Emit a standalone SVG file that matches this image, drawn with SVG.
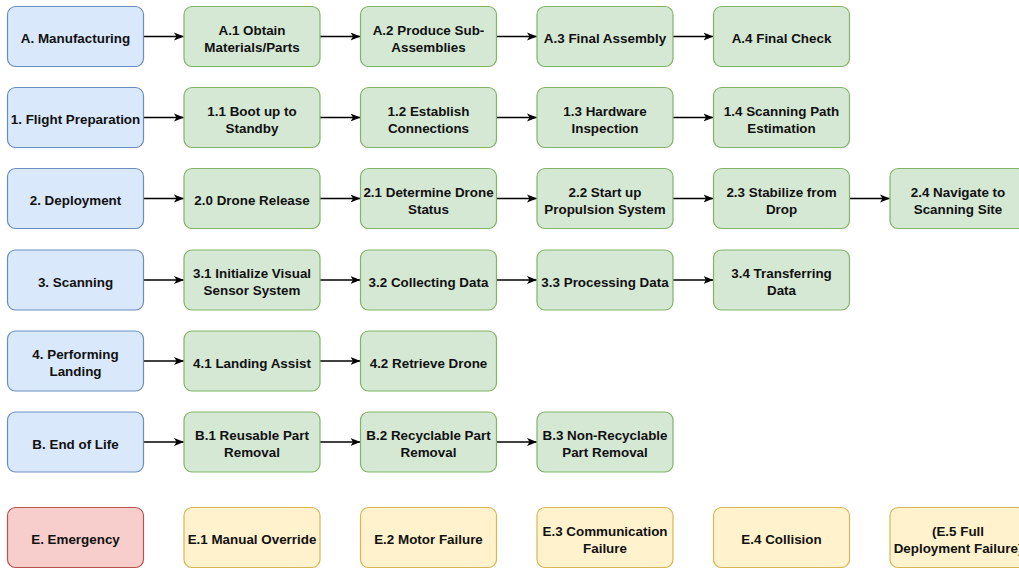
<svg xmlns="http://www.w3.org/2000/svg" width="1019" height="570" viewBox="0 0 1019 570">
  <style>
    .box { stroke-width: 1.2; }
    .phase { fill: #dae8fc; stroke: #6c8ebf; }
    .step { fill: #d5e8d4; stroke: #82b366; }
    .emer { fill: #f8cecc; stroke: #b85450; }
    .warn { fill: #fff2cc; stroke: #d6b656; }
    text { font-family: "Liberation Sans", Arial, Helvetica, sans-serif; font-size: 13.4px; font-weight: bold; fill: #111; text-anchor: middle; }
    .link { stroke: #000; stroke-width: 1.5; fill: none; marker-end: url(#arrow); }
  </style>
  <defs>
    <marker id="arrow" viewBox="0 0 10 10" refX="9.5" refY="5" markerWidth="10" markerHeight="10" markerUnits="userSpaceOnUse" orient="auto">
      <path d="M0,1 L10,5 L0,9 L2.5,5 Z" fill="#000"/>
    </marker>
  </defs>

  <!-- connectors -->
  <g id="connectors">
    <!-- row A -->
    <line class="link" x1="143.5" y1="36.5" x2="183.5" y2="36.5"/>
    <line class="link" x1="320" y1="36.5" x2="360" y2="36.5"/>
    <line class="link" x1="496" y1="36.5" x2="536.5" y2="36.5"/>
    <line class="link" x1="673" y1="36.5" x2="713" y2="36.5"/>
    <!-- row 1 -->
    <line class="link" x1="143.5" y1="117.5" x2="183.5" y2="117.5"/>
    <line class="link" x1="320" y1="117.5" x2="360" y2="117.5"/>
    <line class="link" x1="496" y1="117.5" x2="536.5" y2="117.5"/>
    <line class="link" x1="673" y1="117.5" x2="713" y2="117.5"/>
    <!-- row 2 -->
    <line class="link" x1="143.5" y1="198.5" x2="183.5" y2="198.5"/>
    <line class="link" x1="320" y1="198.5" x2="360" y2="198.5"/>
    <line class="link" x1="496" y1="198.5" x2="536.5" y2="198.5"/>
    <line class="link" x1="673" y1="198.5" x2="713" y2="198.5"/>
    <line class="link" x1="849" y1="198.5" x2="889.5" y2="198.5"/>
    <!-- row 3 -->
    <line class="link" x1="143.5" y1="280" x2="183.5" y2="280"/>
    <line class="link" x1="320" y1="280" x2="360" y2="280"/>
    <line class="link" x1="496" y1="280" x2="536.5" y2="280"/>
    <line class="link" x1="673" y1="280" x2="713" y2="280"/>
    <!-- row 4 -->
    <line class="link" x1="143.5" y1="361" x2="183.5" y2="361"/>
    <line class="link" x1="320" y1="361" x2="360" y2="361"/>
    <!-- row B -->
    <line class="link" x1="143.5" y1="442" x2="183.5" y2="442"/>
    <line class="link" x1="320" y1="442" x2="360" y2="442"/>
    <line class="link" x1="496" y1="442" x2="536.5" y2="442"/>
  </g>

  <!-- row A: manufacturing -->
  <g id="A"><rect class="box phase" x="7.5" y="6.5" width="136" height="60" rx="8"/><text x="75.5" y="43">A. Manufacturing</text></g>
  <g id="A1"><rect class="box step" x="184" y="6.5" width="136" height="60" rx="8"/><text x="252" y="34.5">A.1 Obtain</text><text x="252" y="51.5">Materials/Parts</text></g>
  <g id="A2"><rect class="box step" x="360.5" y="6.5" width="136" height="60" rx="8"/><text x="428.5" y="34.5">A.2 Produce Sub-</text><text x="428.5" y="51.5">Assemblies</text></g>
  <g id="A3"><rect class="box step" x="537" y="6.5" width="136" height="60" rx="8"/><text x="605" y="43">A.3 Final Assembly</text></g>
  <g id="A4"><rect class="box step" x="713.5" y="6.5" width="136" height="60" rx="8"/><text x="781.5" y="43">A.4 Final Check</text></g>

  <!-- row 1: flight preparation -->
  <g id="P1"><rect class="box phase" x="7.5" y="87.5" width="136" height="60" rx="8"/><text x="75.5" y="124">1. Flight Preparation</text></g>
  <g id="P1-1"><rect class="box step" x="184" y="87.5" width="136" height="60" rx="8"/><text x="252" y="115.5">1.1 Boot up to</text><text x="252" y="132.5">Standby</text></g>
  <g id="P1-2"><rect class="box step" x="360.5" y="87.5" width="136" height="60" rx="8"/><text x="428.5" y="115.5">1.2 Establish</text><text x="428.5" y="132.5">Connections</text></g>
  <g id="P1-3"><rect class="box step" x="537" y="87.5" width="136" height="60" rx="8"/><text x="605" y="115.5">1.3 Hardware</text><text x="605" y="132.5">Inspection</text></g>
  <g id="P1-4"><rect class="box step" x="713.5" y="87.5" width="136" height="60" rx="8"/><text x="781.5" y="115.5">1.4 Scanning Path</text><text x="781.5" y="132.5">Estimation</text></g>

  <!-- row 2: deployment -->
  <g id="P2"><rect class="box phase" x="7.5" y="168.5" width="136" height="60" rx="8"/><text x="75.5" y="205">2. Deployment</text></g>
  <g id="P2-0"><rect class="box step" x="184" y="168.5" width="136" height="60" rx="8"/><text x="252" y="205">2.0 Drone Release</text></g>
  <g id="P2-1"><rect class="box step" x="360.5" y="168.5" width="136" height="60" rx="8"/><text x="428.5" y="196.5">2.1 Determine Drone</text><text x="428.5" y="213.5">Status</text></g>
  <g id="P2-2"><rect class="box step" x="537" y="168.5" width="136" height="60" rx="8"/><text x="605" y="196.5">2.2 Start up</text><text x="605" y="213.5">Propulsion System</text></g>
  <g id="P2-3"><rect class="box step" x="713.5" y="168.5" width="136" height="60" rx="8"/><text x="781.5" y="196.5">2.3 Stabilize from</text><text x="781.5" y="213.5">Drop</text></g>
  <g id="P2-4"><rect class="box step" x="890" y="168.5" width="136" height="60" rx="8"/><text x="958" y="196.5">2.4 Navigate to</text><text x="958" y="213.5">Scanning Site</text></g>

  <!-- row 3: scanning -->
  <g id="P3"><rect class="box phase" x="7.5" y="250" width="136" height="60" rx="8"/><text x="75.5" y="286.5">3. Scanning</text></g>
  <g id="P3-1"><rect class="box step" x="184" y="250" width="136" height="60" rx="8"/><text x="252" y="278">3.1 Initialize Visual</text><text x="252" y="295">Sensor System</text></g>
  <g id="P3-2"><rect class="box step" x="360.5" y="250" width="136" height="60" rx="8"/><text x="428.5" y="286.5">3.2 Collecting Data</text></g>
  <g id="P3-3"><rect class="box step" x="537" y="250" width="136" height="60" rx="8"/><text x="605" y="286.5">3.3 Processing Data</text></g>
  <g id="P3-4"><rect class="box step" x="713.5" y="250" width="136" height="60" rx="8"/><text x="781.5" y="278">3.4 Transferring</text><text x="781.5" y="295">Data</text></g>

  <!-- row 4: landing -->
  <g id="P4"><rect class="box phase" x="7.5" y="331" width="136" height="60" rx="8"/><text x="75.5" y="359">4. Performing</text><text x="75.5" y="376">Landing</text></g>
  <g id="P4-1"><rect class="box step" x="184" y="331" width="136" height="60" rx="8"/><text x="252" y="367.5">4.1 Landing Assist</text></g>
  <g id="P4-2"><rect class="box step" x="360.5" y="331" width="136" height="60" rx="8"/><text x="428.5" y="367.5">4.2 Retrieve Drone</text></g>

  <!-- row B: end of life -->
  <g id="B"><rect class="box phase" x="7.5" y="412" width="136" height="60" rx="8"/><text x="75.5" y="448.5">B. End of Life</text></g>
  <g id="B1"><rect class="box step" x="184" y="412" width="136" height="60" rx="8"/><text x="252" y="440">B.1 Reusable Part</text><text x="252" y="457">Removal</text></g>
  <g id="B2"><rect class="box step" x="360.5" y="412" width="136" height="60" rx="8"/><text x="428.5" y="440">B.2 Recyclable Part</text><text x="428.5" y="457">Removal</text></g>
  <g id="B3"><rect class="box step" x="537" y="412" width="136" height="60" rx="8"/><text x="605" y="440">B.3 Non-Recyclable</text><text x="605" y="457">Part Removal</text></g>

  <!-- row E: emergency -->
  <g id="E"><rect class="box emer" x="7.5" y="507.5" width="136" height="60" rx="8"/><text x="75.5" y="544">E. Emergency</text></g>
  <g id="E1"><rect class="box warn" x="184" y="507.5" width="136" height="60" rx="8"/><text x="252" y="544">E.1 Manual Override</text></g>
  <g id="E2"><rect class="box warn" x="360.5" y="507.5" width="136" height="60" rx="8"/><text x="428.5" y="544">E.2 Motor Failure</text></g>
  <g id="E3"><rect class="box warn" x="537" y="507.5" width="136" height="60" rx="8"/><text x="605" y="535.5">E.3 Communication</text><text x="605" y="552.5">Failure</text></g>
  <g id="E4"><rect class="box warn" x="713.5" y="507.5" width="136" height="60" rx="8"/><text x="781.5" y="544">E.4 Collision</text></g>
  <g id="E5"><rect class="box warn" x="890" y="507.5" width="136" height="60" rx="8"/><text x="958" y="535.5">(E.5 Full</text><text x="958" y="552.5">Deployment Failure)</text></g>
</svg>
